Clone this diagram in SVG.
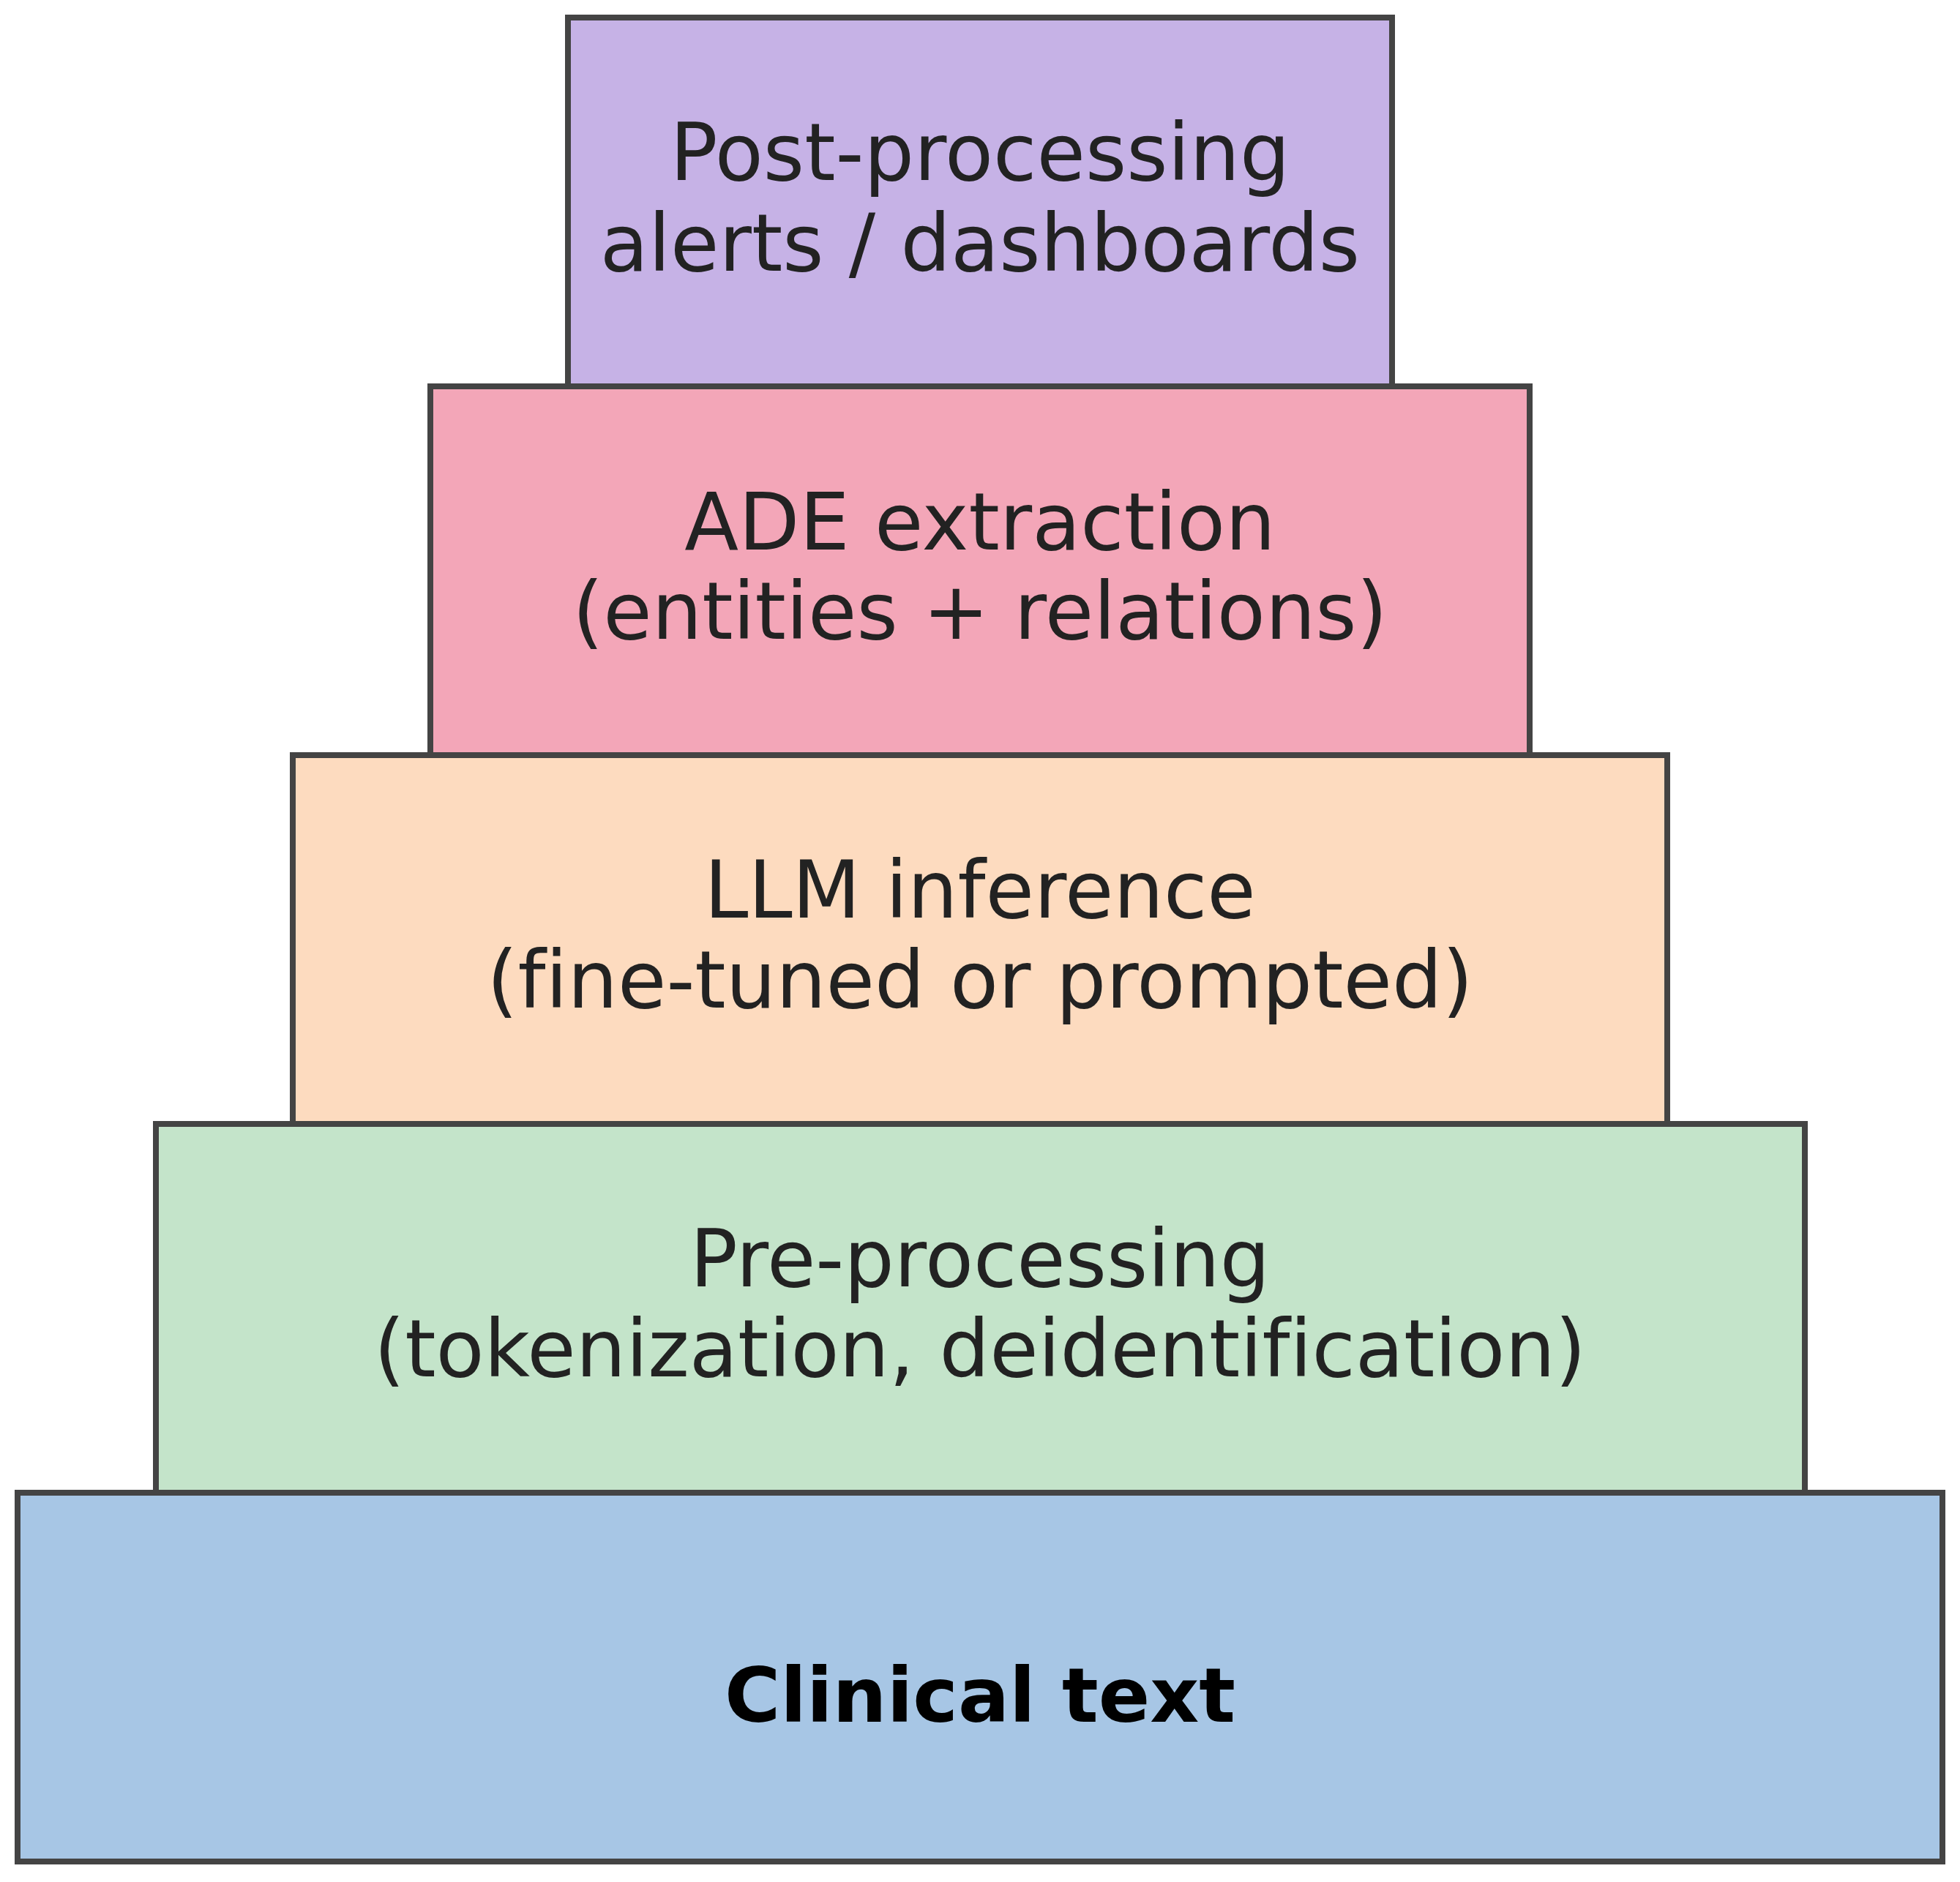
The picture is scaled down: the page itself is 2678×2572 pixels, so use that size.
<svg xmlns="http://www.w3.org/2000/svg" width="2678" height="2572" viewBox="0 0 2678 2572">
<style>
.box{stroke:#444444;stroke-width:8}
.lbl{font-family:"DejaVu Sans",sans-serif;font-size:108px;fill:#222222;text-anchor:middle;font-variant-ligatures:none;font-feature-settings:"liga" 0}
.bold{font-family:"DejaVu Sans",sans-serif;font-size:104px;font-weight:bold;fill:#000000;text-anchor:middle}
</style>
<rect width="2678" height="2572" fill="#ffffff"/>
<g id="clinical">
<rect class="box" x="24" y="2040" width="2630" height="504" fill="#a7c6e5"/>
<text class="bold" x="1339" y="2353">Clinical text</text>
</g>
<g id="preprocessing">
<rect class="box" x="213" y="1536" width="2253" height="504" fill="#c4e4ca"/>
<text class="lbl" x="1339" y="1758">Pre-processing</text>
<text class="lbl" x="1339" y="1881">(tokenization, deidentification)</text>
</g>
<g id="llm">
<rect class="box" x="400" y="1032" width="1878" height="504" fill="#fddbbf"/>
<text class="lbl" x="1339" y="1254">LLM inference</text>
<text class="lbl" x="1339" y="1377">(fine-tuned or prompted)</text>
</g>
<g id="ade">
<rect class="box" x="588" y="528" width="1502" height="504" fill="#f3a6b8"/>
<text class="lbl" x="1339" y="751">ADE extraction</text>
<text class="lbl" x="1339" y="873">(entities + relations)</text>
</g>
<g id="postprocessing">
<rect class="box" x="776" y="24" width="1126" height="504" fill="#c6b2e6"/>
<text class="lbl" x="1339" y="246">Post-processing</text>
<text class="lbl" x="1339" y="370">alerts / dashboards</text>
</g>
<g id="connectors"></g>
</svg>
